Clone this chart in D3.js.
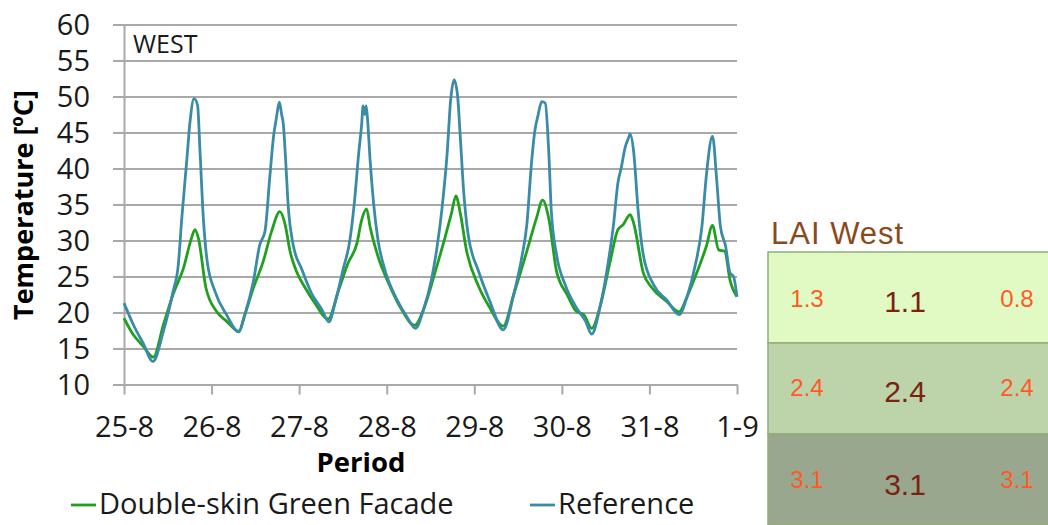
<!DOCTYPE html>
<html>
<head>
<meta charset="utf-8">
<script src="https://cdn.jsdelivr.net/npm/d3@7"></script>
<style>
  body { margin: 0; background: #fff; }
  svg { display: block; }
  .tick text { font-family: "Open Sans", sans-serif; font-size: 29px; fill: #1a1a1a; }
</style>
</head>
<body>
<svg width="1048" height="525"></svg>
<script>
// x values are days since 25-8 00:00
const dayLabels = ["25-8", "26-8", "27-8", "28-8", "29-8", "30-8", "31-8", "1-9"];
const tempTicks = [10, 15, 20, 25, 30, 35, 40, 45, 50, 55, 60];

const greenFacade = [
  [0, 19.2], [0.107, 16.9], [0.22, 15.3], [0.335, 13.8], [0.45, 18.3], [0.56, 22.5], [0.68, 26.2],
  [0.77, 30.3], [0.81, 31.5], [0.85, 30.3], [0.936, 23.4], [1.06, 20.1], [1.17, 18.8], [1.31, 17.4],
  [1.38, 19.7], [1.477, 23.4], [1.59, 27.1], [1.686, 31.3], [1.78, 34.0], [1.84, 32.2], [1.896, 28.5],
  [1.97, 25.7], [2.07, 23.4], [2.18, 21.3], [2.33, 19.1], [2.45, 23.1], [2.56, 26.9], [2.66, 29.6],
  [2.715, 32.9], [2.77, 34.4], [2.81, 31.9], [2.9, 27.8], [3.02, 24.1], [3.17, 20.4], [3.32, 18.2],
  [3.42, 20.4], [3.55, 25.5], [3.67, 30.6], [3.74, 33.8], [3.79, 36.2], [3.84, 33.8], [3.91, 28.7],
  [4.05, 23.6], [4.18, 20.6], [4.33, 18.1], [4.45, 22.5], [4.6, 28.5], [4.71, 33.1], [4.78, 35.6],
  [4.85, 33.1], [4.94, 25.7], [5.06, 22.5], [5.17, 20.1], [5.25, 19.7], [5.34, 17.8], [5.44, 21.0],
  [5.55, 27.0], [5.64, 31.5], [5.7, 32.2], [5.78, 33.6], [5.82, 32.4], [5.93, 25.5], [6.03, 23.4],
  [6.2, 21.5], [6.34, 20.1], [6.43, 22.2], [6.54, 25.5], [6.65, 29.2], [6.72, 32.1], [6.79, 28.7],
  [6.86, 28.5], [6.92, 24.5], [7.0, 22.2]
];

const reference = [
  [0, 21.3], [0.107, 18.3], [0.22, 15.7], [0.33, 13.2], [0.45, 17.4], [0.56, 22.9], [0.62, 26.6],
  [0.66, 33.1], [0.716, 41.0], [0.754, 46.5], [0.80, 49.7], [0.84, 48.8], [0.868, 42.4], [0.906, 33.1],
  [0.95, 27.1], [1.04, 22.9], [1.17, 19.7], [1.31, 17.3], [1.38, 19.7], [1.477, 24.3], [1.55, 29.4],
  [1.61, 31.3], [1.667, 39.1], [1.71, 44.7], [1.74, 47.0], [1.774, 49.2], [1.80, 47.5], [1.82, 46.1],
  [1.84, 42.4], [1.88, 34.0], [1.93, 29.5], [2.03, 26.0], [2.14, 22.7], [2.26, 20.4], [2.34, 18.7],
  [2.41, 21.3], [2.5, 25.9], [2.58, 30.1], [2.63, 35.2], [2.68, 42.1], [2.715, 46.3], [2.73, 48.7],
  [2.75, 47.5], [2.765, 48.7], [2.78, 47.0], [2.81, 41.2], [2.85, 35.2], [2.9, 30.1], [2.98, 25.9],
  [3.1, 22.2], [3.23, 19.4], [3.33, 17.8], [3.42, 20.4], [3.51, 24.5], [3.57, 28.7], [3.63, 34.3],
  [3.69, 42.1], [3.73, 49.5], [3.77, 52.3], [3.81, 50.0], [3.84, 44.4], [3.88, 36.6], [3.93, 30.8],
  [4.05, 25.7], [4.18, 21.5], [4.33, 17.6], [4.45, 22.5], [4.54, 27.5], [4.6, 32.2], [4.655, 41.0],
  [4.69, 45.1], [4.73, 47.5], [4.77, 49.3], [4.81, 49.1], [4.85, 42.4], [4.88, 34.0], [4.94, 28.0],
  [5.04, 23.8], [5.17, 20.6], [5.27, 18.8], [5.34, 17.0], [5.44, 21.0], [5.53, 27.0], [5.59, 32.2],
  [5.64, 38.0], [5.68, 40.2], [5.72, 42.8], [5.76, 44.2], [5.78, 44.8], [5.82, 42.3], [5.87, 34.3],
  [5.93, 28.0], [6.05, 23.8], [6.2, 21.7], [6.34, 19.7], [6.43, 22.2], [6.52, 26.4], [6.6, 32.0],
  [6.65, 39.0], [6.72, 44.5], [6.77, 38.1], [6.81, 32.0], [6.87, 29.2], [6.92, 25.5], [6.96, 25.0],
  [7.0, 22.2]
];

const seriesNames = ["Double-skin Green Facade", "Reference"];

// LAI West table: left, middle, right value per row
const laiLeft = [1.3, 2.4, 3.1];
const laiMid = [1.1, 2.4, 3.1];
const laiRight = [0.8, 2.4, 3.1];

const svg = d3.select("svg");
const font = "'Open Sans', sans-serif";
const gridColor = "#a9a9a9";
const colors = ["#1fa01f", "#3a8ba7"];

const x = d3.scaleLinear().domain([0, 7]).range([124, 737]);
const y = d3.scaleLinear().domain([10, 60]).range([384.5, 24.5]);

// gridlines
svg.append("g")
  .attr("transform", "translate(124,0)")
  .call(d3.axisLeft(y).tickValues(tempTicks).tickSize(-(737 - 124)).tickFormat(""))
  .call(g => g.select(".domain").remove())
  .selectAll("line")
  .attr("stroke", gridColor)
  .attr("stroke-width", 2);

// y axis with outside ticks
svg.append("g")
  .attr("transform", "translate(124,0)")
  .call(d3.axisLeft(y).tickValues(tempTicks).tickSize(11).tickPadding(23).tickSizeOuter(0))
  .call(g => g.select(".domain").attr("stroke", gridColor).attr("stroke-width", 2))
  .call(g => g.selectAll("line").attr("stroke", gridColor).attr("stroke-width", 2))
  .call(g => g.selectAll("text").attr("dy", "0.36em"));

// x axis
svg.append("g")
  .attr("transform", "translate(0,384.5)")
  .call(d3.axisBottom(x).tickValues(d3.range(dayLabels.length)).tickSize(10).tickSizeOuter(0)
    .tickFormat(i => dayLabels[i]))
  .call(g => g.select(".domain").attr("stroke", gridColor).attr("stroke-width", 2))
  .call(g => g.selectAll("line").attr("stroke", gridColor).attr("stroke-width", 2))
  .call(g => g.selectAll("text").attr("y", 52).attr("dy", 0));

svg.append("text")
  .attr("x", 133).attr("y", 53)
  .attr("font-family", font).attr("font-size", 25).attr("fill", "#1a1a1a")
  .text("WEST");

svg.append("text")
  .attr("x", 361).attr("y", 472)
  .attr("text-anchor", "middle")
  .attr("font-family", font).attr("font-size", 27.5).attr("font-weight", "bold").attr("fill", "#000")
  .text("Period");

svg.append("text")
  .attr("transform", "translate(33,205) rotate(-90)")
  .attr("text-anchor", "middle")
  .attr("font-family", font).attr("font-size", 27).attr("font-weight", "bold").attr("fill", "#000")
  .text("Temperature [ºC]");

const line = d3.line()
  .x(d => x(d[0]))
  .y(d => y(d[1]))
  .curve(d3.curveMonotoneX);

svg.selectAll(".series")
  .data([greenFacade, reference])
  .enter().append("path")
  .attr("class", "series")
  .attr("d", line)
  .attr("fill", "none")
  .attr("stroke", (d, i) => colors[i])
  .attr("stroke-width", 2.8)
  .attr("stroke-linejoin", "round");

// legend
const legendX = [71, 530];
const legend = svg.selectAll(".legend")
  .data(seriesNames)
  .enter().append("g")
  .attr("class", "legend")
  .attr("transform", (d, i) => `translate(${legendX[i]},505)`);
legend.append("line")
  .attr("x2", 25)
  .attr("stroke", (d, i) => colors[i])
  .attr("stroke-width", 2.8);
legend.append("text")
  .attr("x", 28).attr("y", 9)
  .attr("font-family", font).attr("font-size", 29).attr("fill", "#1a1a1a")
  .text(d => d);

// LAI table
const tableFont = "'Liberation Sans', Arial, sans-serif";
const rowFills = ["#e1f9c3", "#bdd3aa", "#9aa78f"];
const rowY = d3.scaleBand().domain(d3.range(laiMid.length)).range([252, 525]);

svg.append("text")
  .attr("x", 771).attr("y", 244)
  .attr("font-family", tableFont).attr("font-size", 31).attr("letter-spacing", 1).attr("fill", "#8b4a1c")
  .text("LAI West");

const rows = svg.selectAll(".lai")
  .data(laiMid)
  .enter().append("g")
  .attr("class", "lai")
  .attr("transform", (d, i) => `translate(0,${rowY(i)})`);
rows.append("rect")
  .attr("x", 768).attr("width", 290)
  .attr("height", rowY.bandwidth())
  .attr("fill", (d, i) => rowFills[i])
  .attr("stroke", "#8fae78")
  .attr("stroke-width", 1.5);
rows.append("text")
  .attr("x", 807).attr("y", (d, i) => [55, 53, 54][i])
  .attr("text-anchor", "middle")
  .attr("font-family", tableFont).attr("font-size", 24).attr("fill", "#ff5a26")
  .text((d, i) => laiLeft[i].toFixed(1));
rows.append("text")
  .attr("x", 905).attr("y", (d, i) => [60, 59, 61][i])
  .attr("text-anchor", "middle")
  .attr("font-family", tableFont).attr("font-size", 30).attr("fill", "#7a2410")
  .text(d => d.toFixed(1));
rows.append("text")
  .attr("x", 1017).attr("y", (d, i) => [55, 53, 54][i])
  .attr("text-anchor", "middle")
  .attr("font-family", tableFont).attr("font-size", 24).attr("fill", "#ff5a26")
  .text((d, i) => laiRight[i].toFixed(1));
</script>
</body>
</html>
